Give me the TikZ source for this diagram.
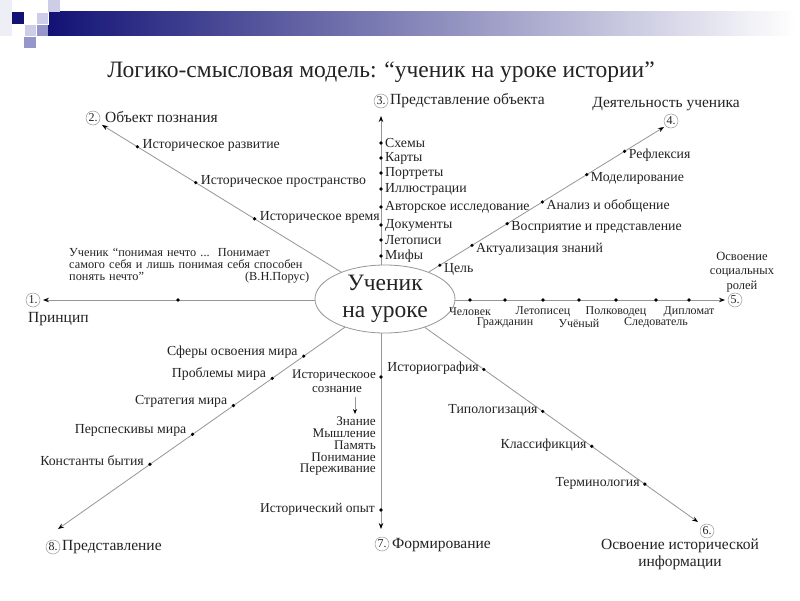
\documentclass[tikz,border=0pt]{standalone}
\usepackage{fontspec}
\setmainfont{Liberation Serif}
\usetikzlibrary{arrows.meta,calc,shapes.geometric}
\definecolor{navy}{RGB}{18,18,118}
\definecolor{lavm}{RGB}{150,150,205}
\definecolor{lavl}{RGB}{205,205,232}
\definecolor{lavf}{RGB}{238,238,246}
\definecolor{barmid}{RGB}{125,125,190}
\definecolor{ln}{RGB}{150,150,150}
\definecolor{tx}{RGB}{35,35,35}
\begin{document}
\begin{tikzpicture}[x=1pt,y=-1pt,
  spoke/.style={draw=ln,line width=0.8pt,-{Stealth[length=6pt,width=4.5pt,black]}},
  dot/.style={circle,fill=black,inner sep=0pt,minimum size=3.6pt},
  lbl/.style={font=\fontsize{13.8}{14}\selectfont,text=tx,inner sep=1pt},
  sm/.style={font=\fontsize{12}{12}\selectfont,text=tx,inner sep=1pt},
  num/.style={circle,draw=ln,line width=0.5pt,inner sep=0.3pt,minimum size=14pt,font=\fontsize{12}{12}\selectfont,text=tx},
  head/.style={font=\fontsize{15.5}{16}\selectfont,text=tx,inner sep=1pt}]
\useasboundingbox (0,0) rectangle (800,600);
\fill[white] (0,0) rectangle (800,600);
% banner
\fill[lavf] (0,0) rectangle (12,36);
\shade[left color=navy,middle color=barmid,right color=white] (48,11) rectangle (795,35);
\fill[navy] (12,12) rectangle (24,24);
\fill[lavl] (24,24) rectangle (36,36);
\fill[lavl] (36,12) rectangle (48,24);
\fill[lavm] (36,24) rectangle (48,36);
\fill[lavm] (24,36) rectangle (36,48);
\fill[lavl] (48,0) rectangle (60,12);
\draw[white,line width=0.6pt] (24,24) rectangle (36,36) (36,12) rectangle (48,24);
% title
\node[font=\fontsize{23.5}{25}\selectfont,text=tx] (title) at (381,72) {Логико-смысловая модель: “ученик на уроке истории”};
% centre
\node[ellipse,draw=ln,line width=0.8pt,minimum width=140pt,minimum height=68pt,inner sep=0pt,align=center,font=\fontsize{23.5}{27}\selectfont,text=tx] (c) at (385,299) {Ученик\\на уроке};
% end points
\coordinate (e1) at (43,300);
\coordinate (e2) at (102,125);
\coordinate (e3) at (381,116);
\coordinate (e4) at (664,127);
\coordinate (e5) at (725,300);
\coordinate (e6) at (698,522);
\coordinate (e7) at (381,529);
\coordinate (e8) at (58,529);
\draw[spoke] (c.west |- e1) -- (e1);
\draw[spoke] (c) -- (e2);
\draw[spoke] (c.north -| e3) -- (e3);
\draw[spoke] (c) -- (e4);
\draw[spoke] (c.east |- e5) -- (e5);
\draw[spoke] (c) -- (e6);
\draw[spoke] (c.south -| e7) -- (e7);
\draw[spoke] (c) -- (e8);
% numbers and heads
\node[num] (n1) at (33,300) {1.};
\node[head,anchor=west] (h1) at (27,319) {Принцип};
\node[num] (n2) at (93,118) {2.};
\node[head,anchor=west] (h2) at (104,117) {Объект познания};
\node[num] (n3) at (381,101) {3.};
\node[head,anchor=west] (h3) at (389,101) {Представление объекта};
\node[num] (n4) at (671,121) {4.};
\node[head] (h4) at (666,104) {Деятельность ученика};
\node[num] (n5) at (735,300) {5.};
\node[sm,align=center,font=\fontsize{12.5}{14.5}\selectfont] (h5) at (742,272) {Освоение\\социальных\\ролей};
\node[num] (n6) at (707,531) {6.};
\node[head,align=center,font=\fontsize{15.5}{17}\selectfont] (h6) at (680,554) {Освоение исторической\\информации};
\node[num] (n7) at (382,544) {7.};
\node[head,anchor=west] (h7) at (391,545) {Формирование};
\node[num] (n8) at (53,547) {8.};
\node[head,anchor=west] (h8) at (61,547) {Представление};
% spoke 1
\node[dot] (d11) at (178,300) {};
\node[font=\fontsize{12.3}{12.3}\selectfont,text=tx,text width=240pt,align=left,inner sep=0pt,anchor=north west] (q) at (69,248)
 {Ученик “понимая нечто ...\ \ Понимает\\самого себя и лишь понимая себя способен\\понять нечто”\hfill(В.Н.Порус)};
% spoke 2
\node[dot] (d21) at ($(c)!(136,149)!(e2)$) {};
\node[dot] (d22) at ($(c)!(193,187)!(e2)$) {};
\node[dot] (d23) at ($(c)!(252,223)!(e2)$) {};
\node[lbl,anchor=west] at ([xshift=2pt,yshift=1pt]d21.east) {Историческое развитие};
\node[lbl,anchor=west] at ([xshift=2pt,yshift=1pt]d22.east) {Историческое пространство};
\node[lbl,anchor=west] at ([xshift=2pt,yshift=1pt]d23.east) {Историческое время};
% spoke 3
\foreach \y/\t [count=\i] in {143/Схемы,158/Карты,173/Портреты,189/Иллюстрации,207/Авторское исследование,225/Документы,240/Летописи,256/Мифы}{
  \node[dot] (d3\i) at (381,\y) {};
  \node[lbl,anchor=west] at ([xshift=1pt]d3\i.east) {\t};
}
% spoke 4
\foreach \x/\y/\t [count=\i] in {441/267/Цель,473/247/Актуализация знаний,508/225/Восприятие и представление,543/203/Анализ и обобщение,587/175/Моделирование,625/152/Рефлексия}{
  \node[dot] (d4\i) at ($(c)!(\x,\y)!(e4)$) {};
  \node[lbl,anchor=west] at ([xshift=1pt,yshift=-4pt]d4\i.east) {\t};
}
% spoke 5
\foreach \x/\t/\r [count=\i] in {470/Человек/0,505/Гражданин/1,543/Летописец/0,579/Учёный/1,616/Полководец/0,656/Следователь/1,689/Дипломат/0}{
  \node[dot] (d5\i) at (\x,300) {};
  \node[sm,anchor=center] at ([yshift={-12pt-11pt*\r}]d5\i) {\t};
}
% spoke 6
\foreach \x/\y/\t [count=\i] in {485/368/Историография,543/411/Типологизация,592/446/Классификция,645/484/Терминология}{
  \node[dot] (d6\i) at ($(c)!(\x,\y)!(e6)$) {};
  \node[lbl,anchor=east] at ([xshift=-2pt,yshift=1pt]d6\i.west) {\t};
}
% spoke 7
\node[dot] (d71) at (381,377) {};
\node[dot] (d72) at (381,510) {};
\node[sm,anchor=east,font=\fontsize{13}{13}\selectfont] (t71) at ([xshift=-2pt,yshift=1pt]d71.west) {Историческоое};
\node[sm,font=\fontsize{13}{13}\selectfont] (t72) at (337,389) {сознание};
\coordinate (a1) at (355,397);
\coordinate (a2) at (355,414);
\draw[draw=ln,line width=0.7pt,-{Stealth[length=5pt,width=4pt,black]}] (a1) -- (a2);
\node[sm,align=right,anchor=north east,font=\fontsize{13.2}{11.7}\selectfont] (t73) at (377,416) {Знание\\Мышление\\Память\\Понимание\\Переживание};
\node[sm,anchor=east,font=\fontsize{13.5}{13.5}\selectfont] (t74) at ([xshift=-3pt,yshift=1pt]d72.west) {Исторический опыт};
% spoke 8
\foreach \x/\y/\t [count=\i] in {303/355/Сферы освоения мира,272/378/Проблемы мира,233/405/Стратегия мира,193/435/Перспескивы мира,149/463/Константы бытия}{
  \node[dot] (d8\i) at ($(c)!(\x,\y)!(e8)$) {};
  \node[lbl,anchor=east] at ([xshift=-3pt,yshift=4pt]d8\i.west) {\t};
}
\end{tikzpicture}
\end{document}
